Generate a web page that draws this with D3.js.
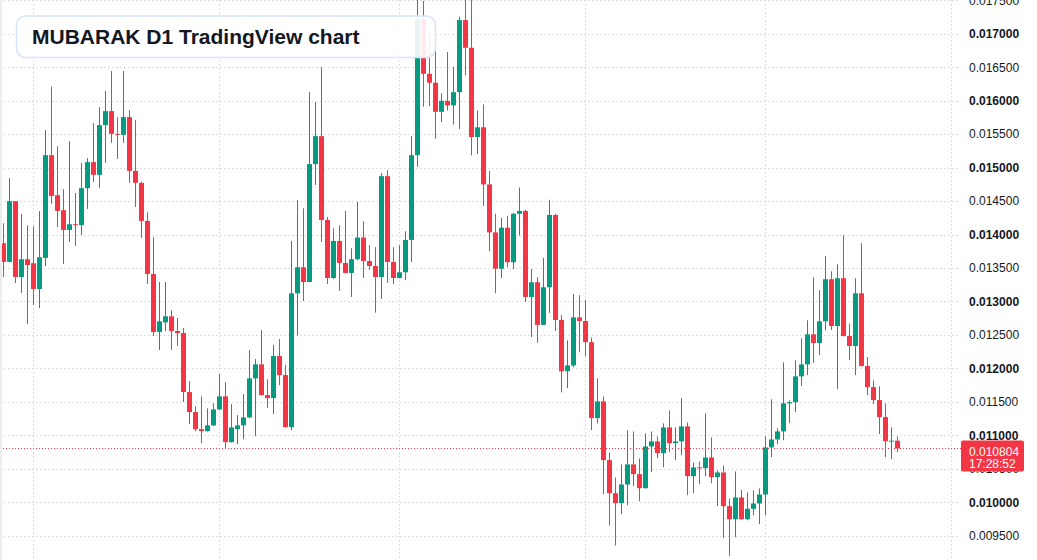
<!DOCTYPE html>
<html>
<head>
<meta charset="utf-8">
<style>
  body { margin: 0; background: #fff; }
  svg { display: block; font-family: "Liberation Sans", Arial, sans-serif; }
</style>
</head>
<body>
<script src="https://cdn.jsdelivr.net/npm/d3@7"></script>
<svg width="1037" height="560"></svg>
<script>
// daily candles, MUBARAK (oldest first)
const open = [
  0.013870, 0.013590, 0.014498, 0.013366, 0.013631, 0.013571, 0.013186, 0.013650, 0.015186, 0.014588,
  0.014364, 0.014069, 0.014154, 0.014140, 0.014693, 0.015082, 0.014892, 0.015635, 0.015844, 0.015505,
  0.015490, 0.015755, 0.014951, 0.014772, 0.014204, 0.013411, 0.012543, 0.012688, 0.012778, 0.012558,
  0.012528, 0.011646, 0.011347, 0.011092, 0.011063, 0.011148, 0.011387, 0.011582, 0.010898, 0.011092,
  0.011148, 0.011267, 0.011851, 0.012060, 0.011601, 0.011556, 0.012184, 0.011900, 0.011122, 0.013122,
  0.013511, 0.013291, 0.015052, 0.015470, 0.014218, 0.013351, 0.013904, 0.013575, 0.013426, 0.013631,
  0.013955, 0.013605, 0.013530, 0.013366, 0.014872, 0.013590, 0.013351, 0.013436, 0.013919, 0.015186,
  0.017220, 0.016402, 0.016268, 0.015834, 0.015998, 0.015930, 0.016127, 0.017204, 0.016791, 0.015457,
  0.015602, 0.014749, 0.014032, 0.013490, 0.014102, 0.013586, 0.014310, 0.014353, 0.013067, 0.013287,
  0.012650, 0.013212, 0.014293, 0.012724, 0.011957, 0.012044, 0.012762, 0.012708, 0.012392, 0.011257,
  0.011507, 0.010629, 0.010135, 0.009986, 0.010265, 0.010565, 0.010419, 0.010210, 0.010834, 0.010909,
  0.010734, 0.011118, 0.010883, 0.010909, 0.011133, 0.010390, 0.010520, 0.010510, 0.010669, 0.010375,
  0.010445, 0.009941, 0.009746, 0.010071, 0.009746, 0.009902, 0.009981, 0.010116, 0.010819, 0.010938,
  0.011058, 0.011477, 0.011496, 0.011881, 0.012060, 0.012509, 0.012379, 0.012703, 0.013332, 0.012633,
  0.013347, 0.012483, 0.012334, 0.013122, 0.012035, 0.011721, 0.011526, 0.011272, 0.010913, 0.010920
]
const high = [
  0.014169, 0.014842, 0.014500, 0.014304, 0.014139, 0.014124, 0.014349, 0.015560, 0.016208, 0.015321,
  0.014678, 0.015396, 0.014618, 0.015067, 0.015141, 0.015665, 0.015904, 0.016143, 0.016443, 0.015755,
  0.016443, 0.015859, 0.015710, 0.014790, 0.014334, 0.013960, 0.013291, 0.013291, 0.012868, 0.012753,
  0.012603, 0.011810, 0.011436, 0.011582, 0.011402, 0.011477, 0.011915, 0.011795, 0.011466, 0.011302,
  0.011616, 0.012274, 0.012139, 0.012573, 0.011836, 0.012349, 0.012439, 0.012050, 0.013904, 0.014513,
  0.014393, 0.016129, 0.015979, 0.016502, 0.014263, 0.014094, 0.014139, 0.014353, 0.013795, 0.014488,
  0.014199, 0.013840, 0.013810, 0.014917, 0.014962, 0.013810, 0.013840, 0.014049, 0.015470, 0.017540,
  0.017490, 0.017026, 0.016757, 0.016110, 0.016727, 0.016507, 0.017252, 0.017560, 0.017560, 0.015853,
  0.015945, 0.014953, 0.014310, 0.014251, 0.014278, 0.014326, 0.014702, 0.014370, 0.013484, 0.013361,
  0.013652, 0.014519, 0.014310, 0.012795, 0.012419, 0.013110, 0.013094, 0.013019, 0.012460, 0.011851,
  0.011582, 0.010744, 0.010370, 0.010565, 0.011073, 0.011058, 0.010654, 0.011028, 0.011058, 0.010983,
  0.011178, 0.011372, 0.011118, 0.011556, 0.011193, 0.010594, 0.010609, 0.011327, 0.010968, 0.010475,
  0.010550, 0.010051, 0.010460, 0.010186, 0.010146, 0.010176, 0.010206, 0.010983, 0.011537, 0.011103,
  0.012090, 0.011522, 0.012120, 0.012449, 0.012718, 0.013361, 0.013167, 0.013676, 0.013451, 0.013556,
  0.013990, 0.012669, 0.013347, 0.013870, 0.012169, 0.011821, 0.011731, 0.011477, 0.011118, 0.010983
]
const low = [
  0.013366, 0.013585, 0.013276, 0.013127, 0.012663, 0.012947, 0.012902, 0.013530, 0.014458, 0.014114,
  0.013560, 0.013889, 0.013830, 0.013994, 0.014383, 0.014787, 0.014697, 0.015071, 0.015370, 0.015131,
  0.015370, 0.014772, 0.014413, 0.013949, 0.013261, 0.012483, 0.012274, 0.012558, 0.012274, 0.012334,
  0.011496, 0.011167, 0.011063, 0.010883, 0.011055, 0.011140, 0.011375, 0.010793, 0.010890, 0.010868,
  0.010943, 0.011257, 0.010988, 0.011595, 0.011407, 0.011317, 0.011751, 0.011115, 0.011078, 0.012494,
  0.013007, 0.013285, 0.014742, 0.013889, 0.013261, 0.013336, 0.013157, 0.013420, 0.013067, 0.013615,
  0.013351, 0.013471, 0.012833, 0.013037, 0.013276, 0.013261, 0.013345, 0.013321, 0.013590, 0.015011,
  0.015909, 0.015919, 0.015430, 0.015680, 0.015853, 0.015645, 0.015575, 0.016378, 0.015183, 0.015200,
  0.014428, 0.013753, 0.013125, 0.013351, 0.013511, 0.013484, 0.013984, 0.012992, 0.012467, 0.012382,
  0.012645, 0.012830, 0.012558, 0.011641, 0.011706, 0.012017, 0.012241, 0.012183, 0.011078, 0.011178,
  0.010120, 0.009652, 0.009353, 0.009821, 0.009956, 0.010240, 0.010016, 0.010205, 0.010449, 0.010659,
  0.010524, 0.010748, 0.010629, 0.010704, 0.010105, 0.010135, 0.010270, 0.010390, 0.010285, 0.009941,
  0.009468, 0.009193, 0.009477, 0.009740, 0.009731, 0.009806, 0.009672, 0.009806, 0.010674, 0.010868,
  0.010928, 0.011182, 0.011347, 0.011736, 0.011900, 0.012080, 0.012199, 0.012573, 0.012573, 0.011691,
  0.012478, 0.012125, 0.011900, 0.012030, 0.011601, 0.011466, 0.011018, 0.010674, 0.010644, 0.010748
]
const close = [
  0.013590, 0.014498, 0.013366, 0.013631, 0.013545, 0.013186, 0.013661, 0.015186, 0.014577, 0.014353,
  0.014069, 0.014154, 0.014140, 0.014693, 0.015082, 0.014892, 0.015635, 0.015844, 0.015505, 0.015498,
  0.015755, 0.014951, 0.014772, 0.014204, 0.013411, 0.012543, 0.012703, 0.012778, 0.012558, 0.012528,
  0.011646, 0.011347, 0.011092, 0.011063, 0.011148, 0.011387, 0.011582, 0.010898, 0.011118, 0.011148,
  0.011267, 0.011851, 0.012060, 0.011601, 0.011556, 0.012184, 0.011900, 0.011122, 0.013122, 0.013511,
  0.013291, 0.015052, 0.015470, 0.014218, 0.013351, 0.013904, 0.013575, 0.013426, 0.013631, 0.013955,
  0.013605, 0.013530, 0.013366, 0.014872, 0.013590, 0.013351, 0.013436, 0.013919, 0.015186, 0.017220,
  0.016402, 0.016268, 0.015834, 0.015998, 0.015930, 0.016127, 0.017204, 0.016791, 0.015457, 0.015602,
  0.014749, 0.014032, 0.013490, 0.014102, 0.013586, 0.014310, 0.014353, 0.013067, 0.013287, 0.012650,
  0.013212, 0.014293, 0.012724, 0.011957, 0.012044, 0.012762, 0.012708, 0.012392, 0.011257, 0.011507,
  0.010629, 0.010135, 0.009986, 0.010265, 0.010565, 0.010419, 0.010210, 0.010834, 0.010909, 0.010734,
  0.011118, 0.010883, 0.010909, 0.011133, 0.010390, 0.010520, 0.010510, 0.010669, 0.010375, 0.010445,
  0.009941, 0.009746, 0.010071, 0.009746, 0.009902, 0.009981, 0.010116, 0.010819, 0.010938, 0.011058,
  0.011477, 0.011496, 0.011881, 0.012060, 0.012509, 0.012379, 0.012703, 0.013332, 0.012633, 0.013347,
  0.012483, 0.012334, 0.013122, 0.012035, 0.011721, 0.011526, 0.011272, 0.010913, 0.010920, 0.010804
]
// candle index where each month starts (time grid)
const monthStarts = [5, 36, 66, 97, 127, 158]
const priceTicks = [0.0175, 0.017, 0.0165, 0.016, 0.0155, 0.015, 0.0145, 0.014, 0.0135,
  0.013, 0.0125, 0.012, 0.0115, 0.011, 0.0105, 0.01, 0.0095]
const lastPrice = 0.010804
const countdown = "17:28:52"
const title = "MUBARAK D1 TradingView chart"

const green = "#089981", red = "#f23645", gridColor = "#d6d6d6"
const data = open.map((o, i) => ({i: i, o: o, h: high[i], l: low[i], c: close[i]}))

const svg = d3.select("svg")
svg.append("rect").attr("width", 1037).attr("height", 560).attr("fill", "#fff")

const xScale = d3.scaleLinear().domain([0, 149]).range([3.3, 897.3])
const yScale = d3.scaleLinear().domain([0.0095, 0.0175]).range([535.7, 0.3])

// grid
svg.append("g").selectAll("line.h")
  .data(priceTicks)
  .join("line")
  .attr("x1", 0).attr("x2", 960)
  .attr("y1", d => Math.round(yScale(d)) + 0.5)
  .attr("y2", d => Math.round(yScale(d)) + 0.5)
  .attr("stroke", gridColor)
  .attr("stroke-dasharray", "1.5,2.5")

svg.append("g").selectAll("line.v")
  .data(monthStarts)
  .join("line")
  .attr("x1", d => Math.round(xScale(d)) + 0.5)
  .attr("x2", d => Math.round(xScale(d)) + 0.5)
  .attr("y1", 0).attr("y2", 560)
  .attr("stroke", gridColor)
  .attr("stroke-dasharray", "1.5,2.5")

// price axis
const yAxis = d3.axisRight(yScale)
  .tickValues(priceTicks)
  .tickFormat(d3.format(".6f"))
  .tickSize(0)
  .tickPadding(0)

const axisG = svg.append("g").attr("transform", "translate(969,0)").call(yAxis)
axisG.select(".domain").remove()
axisG.selectAll("text")
  .attr("font-family", "Liberation Sans, Arial, sans-serif")
  .attr("font-size", 12)
  .attr("fill", "#131722")
  .attr("font-weight", d => Math.abs(d * 1000 - Math.round(d * 1000)) < 1e-9 ? "bold" : "normal")

// candles
const candles = svg.append("g").selectAll("g.candle")
  .data(data)
  .join("g")
  .attr("class", "candle")

candles.append("line")
  .attr("x1", d => Math.round(xScale(d.i)) + 0.5)
  .attr("x2", d => Math.round(xScale(d.i)) + 0.5)
  .attr("y1", d => yScale(d.h))
  .attr("y2", d => yScale(d.l))
  .attr("stroke", d => d.c >= d.o ? green : red)
  .attr("stroke-width", 1)

candles.append("rect")
  .attr("x", d => Math.round(xScale(d.i)) - 2)
  .attr("width", 5)
  .attr("y", d => yScale(Math.max(d.o, d.c)))
  .attr("height", d => Math.max(1, yScale(Math.min(d.o, d.c)) - yScale(Math.max(d.o, d.c))))
  .attr("fill", d => d.c >= d.o ? green : red)

// last price line + tag
const py = Math.round(yScale(lastPrice)) + 0.5
svg.append("line")
  .attr("x1", 0).attr("x2", 961)
  .attr("y1", py).attr("y2", py)
  .attr("stroke", red)
  .attr("stroke-dasharray", "1,2")

svg.append("rect")
  .attr("x", 961).attr("y", py - 8)
  .attr("width", 63).attr("height", 31)
  .attr("rx", 2)
  .attr("fill", red)
svg.append("text")
  .attr("x", 969).attr("y", py + 7)
  .attr("font-size", 12).attr("fill", "#fff")
  .text(d3.format(".6f")(lastPrice))
svg.append("text")
  .attr("x", 969).attr("y", py + 19)
  .attr("font-size", 12).attr("fill", "#fff")
  .text(countdown)

// title box
svg.append("rect")
  .attr("x", 16.5).attr("y", 16)
  .attr("width", 419).attr("height", 41.5)
  .attr("rx", 9)
  .attr("fill", "rgba(255,255,255,0.9)")
  .attr("stroke", "#d7e5fa")
  .attr("stroke-width", 1.5)
svg.append("text")
  .attr("x", 32).attr("y", 44)
  .attr("font-size", 21)
  .attr("font-weight", "bold")
  .attr("fill", "#131722")
  .text(title)

// frame edges
svg.append("rect").attr("x", 0).attr("y", 0).attr("width", 2).attr("height", 560).attr("fill", "#ececec")
</script>
</body>
</html>
